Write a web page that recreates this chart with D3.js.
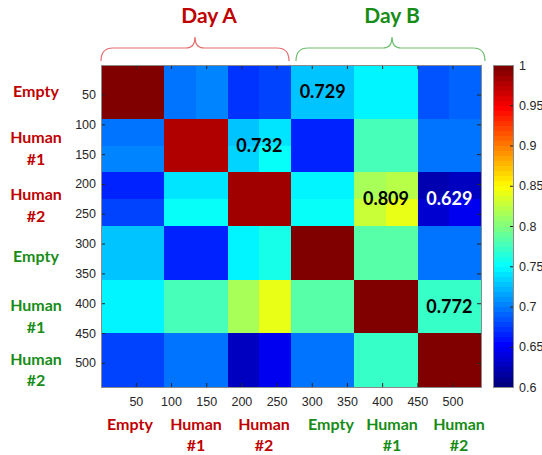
<!DOCTYPE html>
<html><head><meta charset="utf-8">
<script src="https://cdn.jsdelivr.net/npm/d3@7"></script>
<style>body{margin:0;background:#fff}svg{display:block}</style>
</head><body>
<svg id="c" width="542" height="455"></svg>
<script>
// ---- data ----
const classes = ["Empty", "Human #1", "Human #2", "Empty", "Human #1", "Human #2"];
const days = ["Day A", "Day B"];
const axisTicks = [50, 100, 150, 200, 250, 300, 350, 400, 450, 500];
const cbarTicks = [0.6, 0.65, 0.7, 0.75, 0.8, 0.85, 0.9, 0.95, 1];
// similarity matrix read as 12x12 sub-blocks (each 45 samples of 540)
const simRows = [
  [1, 1, .70, .705, .67, .68, .728, .728, .745, .745, .685, .69],
  [1, 1, .70, .705, .67, .68, .728, .728, .745, .745, .685, .69],
  [.70, .70, .98, .98, .73, .74, .665, .665, .775, .775, .695, .695],
  [.705, .705, .98, .98, .735, .75, .665, .665, .78, .78, .70, .70],
  [.668, .668, .738, .738, .985, .985, .745, .745, .815, .82, .62, .625],
  [.675, .675, .75, .755, .985, .985, .75, .75, .83, .84, .635, .645],
  [.728, .728, .665, .665, .745, .76, 1, 1, .785, .785, .70, .70],
  [.728, .728, .665, .665, .745, .76, 1, 1, .785, .785, .70, .70],
  [.748, .748, .775, .78, .815, .84, .785, .785, 1, 1, .772, .772],
  [.748, .748, .775, .78, .815, .84, .785, .785, 1, 1, .772, .772],
  [.68, .68, .695, .70, .625, .645, .70, .70, .772, .772, 1, 1],
  [.68, .68, .695, .70, .625, .645, .70, .70, .772, .772, 1, 1]
];
const annotRow = [0, 1, 2, 2, 4];
const annotCol = [3, 2, 4, 5, 5];
const annotVal = ["0.729", "0.732", "0.809", "0.629", "0.772"];

// ---- helpers ----
const N = 540, sub = simRows.length, step = N / sub;
function jet(t) {
  const c = v => Math.max(0, Math.min(1, v));
  const r = c(1.5 - Math.abs(4 * t - 3)), g = c(1.5 - Math.abs(4 * t - 2)), b = c(1.5 - Math.abs(4 * t - 1));
  return d3.rgb(r * 255, g * 255, b * 255).toString();
}
const cmin = 0.6, cmax = 1;
const tScale = d3.scaleLinear().domain([cmin, cmax]).range([0, 1]).clamp(true);
const color = v => jet(Math.min(63, Math.floor(tScale(v) * 64)) / 63);

const svg = d3.select("#c");
const L = 101, R = 481, T = 65, B = 387;
const x = d3.scaleLinear().domain([0.5, N + 0.5]).range([L, R]);
const y = d3.scaleLinear().domain([0.5, N + 0.5]).range([T, B]);

const red = "#C00000", green = "#178C17";
const bold = "Lato, 'Open Sans', sans-serif";

// heatmap cells
const cells = [];
simRows.forEach((row, i) => row.forEach((v, j) => cells.push({i, j, v})));
svg.append("g").attr("shape-rendering", "crispEdges").selectAll("rect").data(cells).join("rect")
  .attr("x", d => x(d.j * step + 0.5))
  .attr("y", d => y(d.i * step + 0.5))
  .attr("width", x(step) - x(0))
  .attr("height", y(step) - y(0))
  .attr("fill", d => color(d.v));

// axes
const tickCol = "#262626";
const axFont = "'Liberation Sans', Arial, sans-serif";
function styleAxis(g) {
  g.select(".domain").remove();
  g.selectAll(".tick line").attr("stroke", tickCol);
  g.selectAll(".tick text").attr("fill", tickCol).style("font-family", axFont).style("font-size", "12.5px");
}
svg.append("g").attr("transform", `translate(0,${B})`)
  .call(d3.axisBottom(x).tickValues(axisTicks).tickSizeInner(-4).tickSizeOuter(0).tickPadding(10))
  .call(styleAxis);
svg.append("g").attr("transform", `translate(0,${T})`)
  .call(d3.axisTop(x).tickValues(axisTicks).tickSizeInner(-4).tickSizeOuter(0).tickFormat(""))
  .call(styleAxis);
svg.append("g").attr("transform", `translate(${L},0)`)
  .call(d3.axisLeft(y).tickValues(axisTicks).tickSizeInner(-4).tickSizeOuter(0).tickPadding(5))
  .call(styleAxis);
svg.append("g").attr("transform", `translate(${R},0)`)
  .call(d3.axisRight(y).tickValues(axisTicks).tickSizeInner(-4).tickSizeOuter(0).tickFormat(""))
  .call(styleAxis);
svg.append("rect").attr("x", L).attr("y", T).attr("width", R - L).attr("height", B - T)
  .attr("fill", "none").attr("stroke", "#8a8a8a").attr("stroke-width", 1).attr("shape-rendering", "crispEdges");

// annotations
annotVal.forEach((t, k) => {
  svg.append("text")
    .attr("x", x((annotCol[k] * 90) + 45.5))
    .attr("y", y((annotRow[k] * 90) + 45.5) + 6)
    .attr("text-anchor", "middle")
    .attr("fill", t === "0.629" ? "#fff" : "#000")
    .style("font-family", bold).style("font-weight", "bold").style("font-size", "18px")
    .text(t);
});

// colorbar
const CL = 493, CR = 513;
const cy = d3.scaleLinear().domain([cmin, cmax]).range([B, T]);
const levels = d3.range(64);
svg.append("g").attr("shape-rendering", "crispEdges").selectAll("rect").data(levels).join("rect")
  .attr("x", CL).attr("width", CR - CL)
  .attr("y", d => cy(cmin + (d + 1) * (cmax - cmin) / 64))
  .attr("height", d => cy(cmin) - cy(cmin + (cmax - cmin) / 64) + 0.5)
  .attr("fill", d => jet(d / 63));
svg.append("g").attr("transform", `translate(${CR},0)`)
  .call(d3.axisRight(cy).tickValues(cbarTicks).tickSizeInner(-3).tickSizeOuter(0).tickPadding(6).tickFormat(d3.format("~g")))
  .call(styleAxis);
svg.append("rect").attr("x", CL).attr("y", T).attr("width", CR - CL).attr("height", B - T)
  .attr("fill", "none").attr("stroke", "#8a8a8a").attr("shape-rendering", "crispEdges");

// left category labels
const leftBase = [[97], [143, 165], [200, 222], [262], [311, 333], [365, 386]];
classes.forEach((c, k) => {
  const parts = c.split(" ");
  parts.forEach((p, m) => {
    svg.append("text").attr("x", 36).attr("y", leftBase[k][m])
      .attr("text-anchor", "middle").attr("fill", k < 3 ? red : green)
      .style("font-family", bold).style("font-weight", "bold").style("font-size", "16px").text(p);
  });
});
// bottom category labels
const botX = [130, 196, 264, 331, 392, 459];
classes.forEach((c, k) => {
  c.split(" ").forEach((p, m) => {
    svg.append("text").attr("x", botX[k]).attr("y", 430 + m * 21)
      .attr("text-anchor", "middle").attr("fill", k < 3 ? red : green)
      .style("font-family", bold).style("font-weight", "bold").style("font-size", "16px").text(p);
  });
});

// day titles and braces
const dayX = [209, 392];
const brace = [[101, 195, 289], [296, 392, 485]];
days.forEach((d, k) => {
  svg.append("text").attr("x", dayX[k]).attr("y", 23).attr("text-anchor", "middle")
    .attr("fill", k === 0 ? red : green)
    .style("font-family", bold).style("font-weight", "bold").style("font-size", "21px").text(d);
  const [a, m, b] = brace[k];
  const p = d3.path();
  p.moveTo(a, 61); p.quadraticCurveTo(a, 48, a + 12, 48); p.lineTo(m - 9, 48);
  p.quadraticCurveTo(m, 48, m, 37); p.quadraticCurveTo(m, 48, m + 9, 48);
  p.lineTo(b - 12, 48); p.quadraticCurveTo(b, 48, b, 61);
  svg.append("path").attr("d", p.toString()).attr("fill", "none")
    .attr("stroke", k === 0 ? "#E46C6C" : "#6DBE6D").attr("stroke-width", 1.2);
});
</script>
</body></html>
